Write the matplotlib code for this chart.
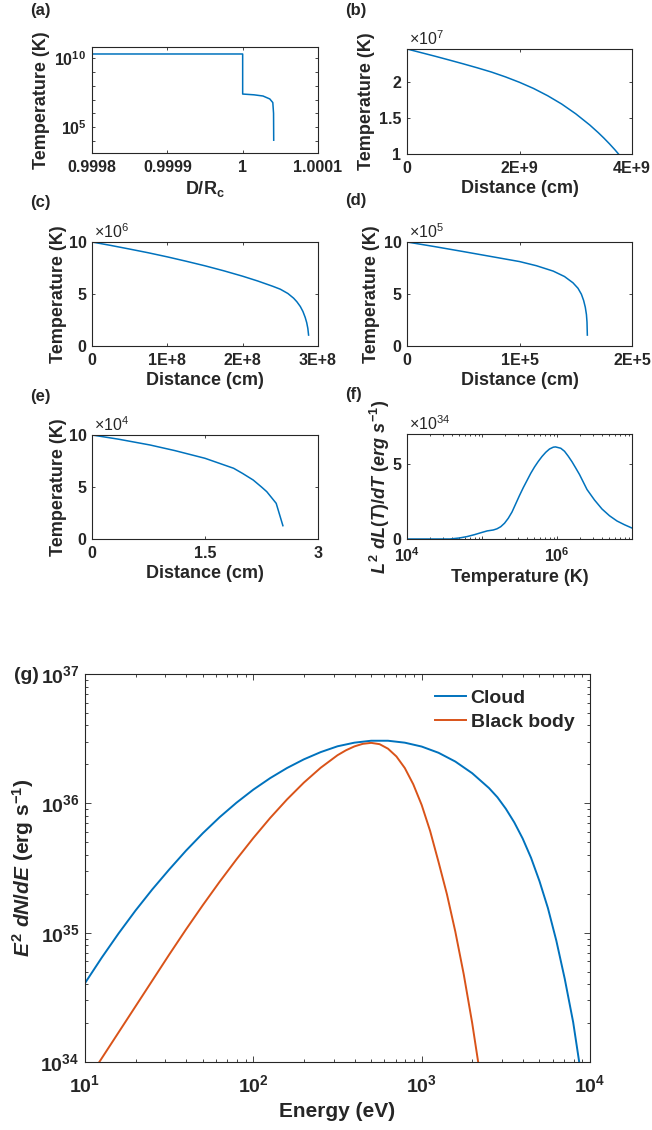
import numpy as np
import matplotlib
matplotlib.use('Agg')
import matplotlib.pyplot as plt
from matplotlib.ticker import LogLocator, NullFormatter

# (a) temperature vs D/Rc
a_D = [0.9998, 1.0, 1.0, 1.000015, 1.000027, 1.000036, 1.0000400, 1.0000410, 1.0000412]
a_T = [2.05e10, 2.05e10, 2.5e7, 2.2e7, 1.8e7, 1.1e7, 6e6, 1e6, 1.1e4]

# (b) distance (cm), temperature (1e7 K)
b_x = [0, 0.25e9, 0.5e9, 0.75e9, 1.0e9, 1.25e9, 1.5e9, 1.75e9, 2.0e9, 2.25e9, 2.5e9,
       2.75e9, 3.0e9, 3.25e9, 3.4e9, 3.5e9, 3.6e9, 3.7e9, 3.76e9]
b_T = [2.45, 2.40, 2.35, 2.298, 2.245, 2.19, 2.132, 2.065, 1.99, 1.905, 1.805,
       1.69, 1.555, 1.40, 1.295, 1.22, 1.14, 1.055, 1.0]

# (c) distance (cm), temperature (1e6 K)
c_x = [0, 0.25e8, 0.5e8, 0.75e8, 1.0e8, 1.25e8, 1.5e8, 1.75e8, 2.0e8, 2.2e8, 2.4e8, 2.5e8,
       2.6e8, 2.676e8, 2.72e8, 2.765e8, 2.8e8, 2.83e8, 2.85e8, 2.865e8, 2.875e8]
c_T = [10, 9.67, 9.32, 8.96, 8.57, 8.15, 7.71, 7.23, 6.71, 6.25, 5.74, 5.46,
       5.05, 4.6, 4.25, 3.8, 3.32, 2.75, 2.25, 1.7, 1.05]

# (d) distance (cm), temperature (1e5 K)
d_x = [0, 0.25e5, 0.5e5, 0.75e5, 1.0e5, 1.15e5, 1.3e5, 1.4e5, 1.475e5, 1.52e5,
       1.55e5, 1.57e5, 1.585e5, 1.595e5, 1.6e5, 1.603e5]
d_T = [10, 9.55, 9.08, 8.6, 8.12, 7.72, 7.2, 6.68, 6.08, 5.55,
       4.98, 4.38, 3.72, 3.02, 2.3, 1.05]

# (e) distance (cm), temperature (1e4 K)
e_x = [0, 0.35, 0.77, 1.1, 1.5, 1.88, 2.0, 2.14, 2.25, 2.32, 2.445, 2.534]
e_T = [10, 9.6, 9.04, 8.5, 7.76, 6.8, 6.3, 5.67, 5.0, 4.55, 3.43, 1.28]

# (f) log10 temperature (K), L^2 dL/dT (1e34 erg/s)
f_logT = [4.0, 4.574, 4.7, 4.8, 4.9, 5.0, 5.07, 5.15, 5.2, 5.25, 5.3, 5.35, 5.4, 5.45,
          5.5, 5.55, 5.6, 5.65, 5.7, 5.75, 5.8, 5.85, 5.9, 5.95, 5.98, 6.05, 6.1,
          6.15, 6.2, 6.25, 6.3, 6.4, 6.5, 6.6, 6.7, 6.8, 6.9, 7.0]
f_L = [0, 0, 0.07, 0.16, 0.29, 0.44, 0.54, 0.60, 0.68, 0.82, 1.05, 1.38, 1.8, 2.35,
       2.9, 3.42, 3.9, 4.38, 4.8, 5.17, 5.5, 5.78, 6.0, 6.12, 6.14, 6.05, 5.85,
       5.52, 5.15, 4.73, 4.3, 3.3, 2.6, 2.0, 1.55, 1.2, 0.95, 0.73]

# (g) spectra, log10 energy (eV) and log10 E^2 dN/dE (erg/s)
cloud_logE = [1.0, 1.1, 1.2, 1.3, 1.4, 1.5, 1.6, 1.7, 1.8, 1.9, 2.0, 2.1, 2.2, 2.3,
              2.4, 2.5, 2.6, 2.7, 2.8, 2.9, 3.0, 3.1, 3.2, 3.3, 3.4, 3.45, 3.5, 3.55,
              3.6, 3.65, 3.7, 3.75, 3.8, 3.85, 3.9, 3.95]
cloud_logF = [34.61, 34.808, 34.995, 35.171, 35.335, 35.488, 35.634, 35.769, 35.893, 36.005,
              36.106, 36.195, 36.273, 36.34, 36.396, 36.441, 36.469, 36.484, 36.484, 36.469,
              36.439, 36.391, 36.323, 36.233, 36.118, 36.047, 35.958, 35.853,
              35.728, 35.578, 35.398, 35.19, 34.938, 34.643, 34.308, 33.878]
bb_logE = [1.085, 1.1, 1.2, 1.3, 1.4, 1.5, 1.6, 1.7, 1.8, 1.9, 2.0, 2.1, 2.2, 2.3, 2.4,
           2.5, 2.55, 2.6, 2.65, 2.7, 2.75, 2.8, 2.85, 2.9, 2.95, 3.0, 3.05, 3.1,
           3.15, 3.2, 3.25, 3.3, 3.35]
bb_logF = [34.0, 34.03, 34.23, 34.43, 34.63, 34.83, 35.025, 35.213, 35.394, 35.567, 35.732,
           35.887, 36.03, 36.16, 36.275, 36.372, 36.41, 36.44, 36.46, 36.4675, 36.4575,
           36.4225, 36.3625, 36.2725, 36.1475, 35.9875, 35.7875, 35.5475, 35.2975,
           35.0075, 34.6775, 34.3025, 33.8775]

blue = '#0072BD'
orange = '#D95319'
ink = '#262626'

plt.rcParams['font.family'] = ['Liberation Sans', 'DejaVu Sans']
plt.rcParams['font.weight'] = 'bold'
plt.rcParams['axes.labelweight'] = 'bold'
plt.rcParams['mathtext.fontset'] = 'custom'
plt.rcParams['mathtext.rm'] = 'Liberation Sans:bold'
plt.rcParams['mathtext.it'] = 'Liberation Sans:italic:bold'
plt.rcParams['mathtext.bf'] = 'Liberation Sans:bold'
plt.rcParams['axes.edgecolor'] = ink
plt.rcParams['axes.labelcolor'] = ink
plt.rcParams['xtick.color'] = ink
plt.rcParams['ytick.color'] = ink
plt.rcParams['text.color'] = ink
plt.rcParams['axes.linewidth'] = 0.8

W, H = 652, 1130
fig = plt.figure(figsize=(W / 100, H / 100), dpi=100)


def box(l, t, r, b):
    return [l / W, 1 - b / H, (r - l) / W, (b - t) / H]


def style(ax, size=11.5, major=2.5, minor=1.3, xpad=5, ypad=4):
    ax.tick_params(which='both', direction='in', top=True, right=True,
                   labelsize=size, width=0.6)
    ax.tick_params(axis='x', pad=xpad)
    ax.tick_params(axis='y', pad=ypad)
    ax.tick_params(which='major', length=major)
    ax.tick_params(which='minor', length=minor)


def mult(ax, p):
    ax.text(0.01, 1.005, r'$\mathdefault{\times10^{%d}}$' % p, transform=ax.transAxes,
            ha='left', va='bottom', fontsize=11.5, fontweight='normal')


def labels(ax, xl, yl, ylx, size=13):
    ax.set_xlabel(xl, fontsize=size, labelpad=3)
    ax.set_ylabel(yl, fontsize=size)
    ax.yaxis.set_label_coords(ylx, 0.5)


# (a)
ax = fig.add_axes(box(92, 47, 318, 153))
ax.plot(a_D, a_T, color=blue, lw=1.1)
ax.set_yscale('log')
ax.set_xlim(0.9998, 1.0001)
ax.set_ylim(10 ** 3.11, 10 ** 10.82)
ax.set_xticks([0.9998, 0.9999, 1.0, 1.0001])
ax.set_xticklabels(['0.9998', '0.9999', '1', '1.0001'])
ax.set_yticks([10.0 ** k for k in range(4, 11)])
ax.set_yticklabels([r'$\mathdefault{10^{%d}}$' % k if k in (5, 10) else '' for k in range(4, 11)])
ax.yaxis.set_minor_locator(plt.NullLocator())
style(ax)
labels(ax, r'D/$\mathdefault{R_{c}}$', 'Temperature (K)', -0.186)

# (b)
ax = fig.add_axes(box(407, 49, 632, 154))
ax.plot(b_x, b_T, color=blue, lw=1.1)
ax.set_xlim(0, 4e9)
ax.set_ylim(1, 2.45)
ax.set_xticks([0, 2e9, 4e9])
ax.set_xticklabels(['0', '2E+9', '4E+9'])
ax.set_yticks([1, 1.5, 2])
ax.set_yticklabels(['1', '1.5', '2'])
style(ax)
mult(ax, 7)
labels(ax, 'Distance (cm)', 'Temperature (K)', -0.142)

# (c)
ax = fig.add_axes(box(92, 242, 318, 346))
ax.plot(c_x, c_T, color=blue, lw=1.1)
ax.set_xlim(0, 3e8)
ax.set_ylim(0, 10)
ax.set_xticks([0, 1e8, 2e8, 3e8])
ax.set_xticklabels(['0', '1E+8', '2E+8', '3E+8'])
ax.set_yticks([0, 5, 10])
style(ax)
mult(ax, 6)
labels(ax, 'Distance (cm)', 'Temperature (K)', -0.111)

# (d)
ax = fig.add_axes(box(407, 242, 632, 346))
ax.plot(d_x, d_T, color=blue, lw=1.1)
ax.set_xlim(0, 2e5)
ax.set_ylim(0, 10)
ax.set_xticks([0, 1e5, 2e5])
ax.set_xticklabels(['0', '1E+5', '2E+5'])
ax.set_yticks([0, 5, 10])
style(ax)
mult(ax, 5)
labels(ax, 'Distance (cm)', 'Temperature (K)', -0.12)

# (e)
ax = fig.add_axes(box(92, 435, 318, 539))
ax.plot(e_x, e_T, color=blue, lw=1.1)
ax.set_xlim(0, 3)
ax.set_ylim(0, 10)
ax.set_xticks([0, 1.5, 3])
ax.set_xticklabels(['0', '1.5', '3'])
ax.set_yticks([0, 5, 10])
style(ax)
mult(ax, 4)
labels(ax, 'Distance (cm)', 'Temperature (K)', -0.111)

# (f)
ax = fig.add_axes(box(407, 434, 632, 539))
ax.plot(np.power(10.0, f_logT), f_L, color=blue, lw=1.1)
ax.set_xscale('log')
ax.set_xlim(1e4, 1e7)
ax.set_ylim(0, 7)
ax.set_xticks([1e4, 1e5, 1e6, 1e7])
ax.set_xticklabels([r'$\mathdefault{10^{4}}$', '', r'$\mathdefault{10^{6}}$', ''])
ax.xaxis.set_minor_locator(LogLocator(base=10, subs=np.arange(2, 10)))
ax.xaxis.set_minor_formatter(NullFormatter())
ax.set_yticks([0, 5])
style(ax)
mult(ax, 34)
labels(ax, 'Temperature (K)', r'$\mathit{L^{2}\ dL(T)/dT\ (erg\ s^{-1})}$', -0.065)

# (g)
ax = fig.add_axes(box(85, 674, 590, 1062))
ax.plot(np.power(10.0, cloud_logE), np.power(10.0, cloud_logF), color=blue, lw=1.4, label='Cloud')
ax.plot(np.power(10.0, bb_logE), np.power(10.0, bb_logF), color=orange, lw=1.4, label='Black body')
ax.set_xscale('log')
ax.set_yscale('log')
ax.set_xlim(10, 1e4)
ax.set_ylim(1e34, 1e37)
ax.xaxis.set_minor_locator(LogLocator(base=10, subs=np.arange(2, 10)))
ax.yaxis.set_minor_locator(LogLocator(base=10, subs=np.arange(2, 10)))
ax.xaxis.set_minor_formatter(NullFormatter())
ax.yaxis.set_minor_formatter(NullFormatter())
style(ax, size=14, major=4.5, minor=2.3, xpad=9, ypad=4)
ax.set_xlabel('Energy (eV)', fontsize=15)
ax.set_ylabel(r'$\mathit{E^{2}\ dN/dE}$ (erg s$\mathdefault{^{-1}}$)', fontsize=15)
ax.yaxis.set_label_coords(-0.097, 0.5)
ax.legend(frameon=False, fontsize=14, loc='upper right', handlelength=1.6,
          handletextpad=0.25, borderaxespad=0.4, labelspacing=0.3)

# panel letters
for lab, x, y in [('(a)', 30, 10), ('(b)', 345, 10), ('(c)', 30, 203), ('(d)', 345, 201),
                  ('(e)', 30, 397), ('(f)', 345, 395), ('(g)', 14, 675)]:
    fig.text(x / W, 1 - y / H, lab, ha='left', va='center', fontsize=12 if lab != '(g)' else 14)

fig.savefig('out.png', dpi=100)
